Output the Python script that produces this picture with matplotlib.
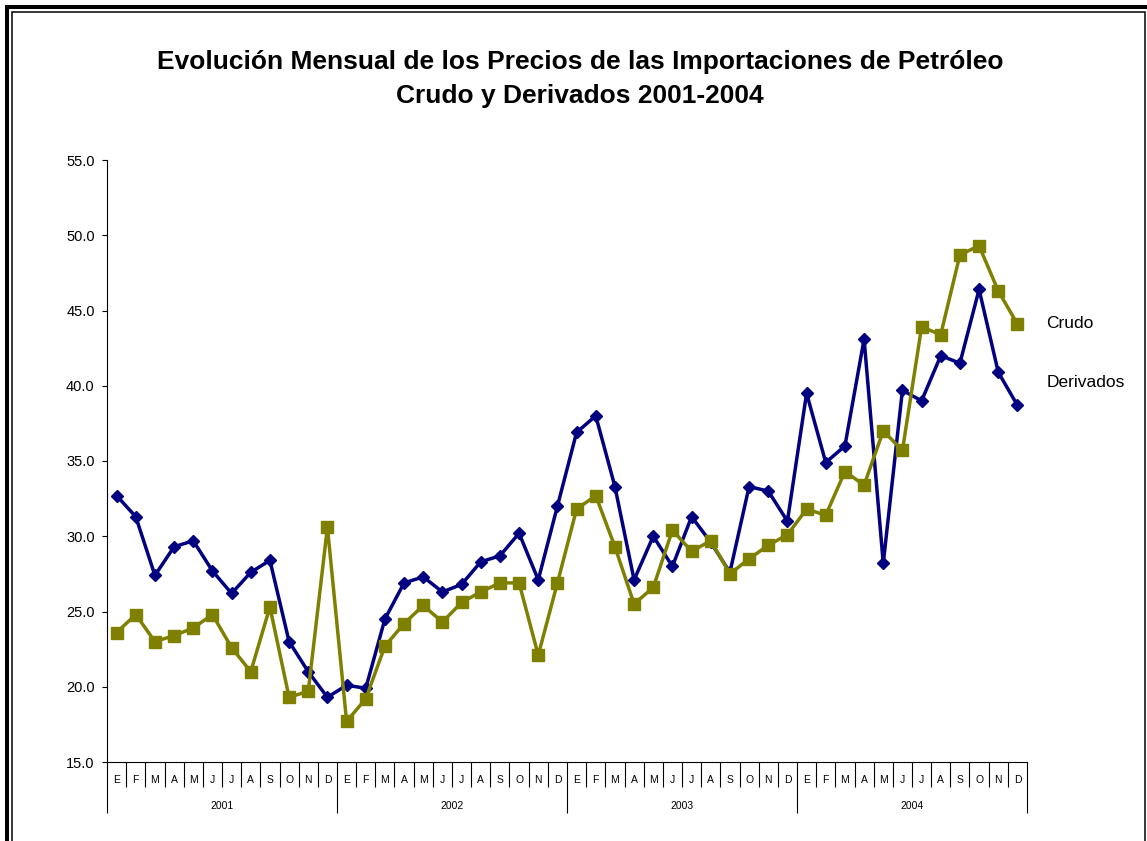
import matplotlib
matplotlib.use("Agg")
import matplotlib.pyplot as plt
from matplotlib.patches import Rectangle
import numpy as np

plt.rcParams['font.family'] = ['Liberation Sans', 'DejaVu Sans']

# Precios mensuales (US$/barril), enero 2001 - diciembre 2004
years = ['2001', '2002', '2003', '2004']
months = ['E', 'F', 'M', 'A', 'M', 'J', 'J', 'A', 'S', 'O', 'N', 'D']

derivados = [32.7, 31.3, 27.4, 29.3, 29.7, 27.7, 26.2, 27.6, 28.4, 23.0, 21.0, 19.3,
             20.1, 19.9, 24.5, 26.9, 27.3, 26.3, 26.8, 28.3, 28.7, 30.2, 27.1, 32.0,
             36.9, 38.0, 33.3, 27.1, 30.0, 28.0, 31.3, 29.6, 27.6, 33.3, 33.0, 31.0,
             39.5, 34.9, 36.0, 43.1, 28.2, 39.7, 39.0, 42.0, 41.5, 46.4, 40.9, 38.7]
crudo = [23.6, 24.8, 23.0, 23.4, 23.9, 24.8, 22.6, 21.0, 25.3, 19.3, 19.7, 30.6,
         17.7, 19.2, 22.7, 24.2, 25.4, 24.3, 25.6, 26.3, 26.9, 26.9, 22.1, 26.9,
         31.8, 32.7, 29.3, 25.5, 26.6, 30.4, 29.0, 29.7, 27.5, 28.5, 29.4, 30.1,
         31.8, 31.4, 34.3, 33.4, 37.0, 35.7, 43.9, 43.4, 48.7, 49.3, 46.3, 44.1]

W, H = 1147, 841
fig = plt.figure(figsize=(W / 100, H / 100), dpi=100)
ax = fig.add_axes([107 / W, 1 - 762 / H, 920 / W, 602 / H])

x = np.arange(len(derivados))
ax.plot(x, derivados, color='#000080', lw=2.5, marker='D', ms=6.5, label='Derivados')
ax.plot(x, crudo, color='#808000', lw=2.5, marker='s', ms=8, label='Crudo')

ax.set_xlim(-0.5, len(x) - 0.5)
ax.set_ylim(15, 55)
ax.set_yticks(np.arange(15, 56, 5))
ax.set_yticklabels([f'{v:.1f}' for v in np.arange(15, 56, 5)], fontsize=10.5)
ax.tick_params(axis='y', direction='out', length=3.4, width=0.8, pad=5.5)

# separadores de meses y de años en el eje x
ax.set_xticks(np.arange(-0.5, len(x), 12))
ax.set_xticks(np.arange(-0.5, len(x), 1), minor=True)
ax.tick_params(axis='x', which='major', length=37, width=0.8, labelbottom=False)
ax.tick_params(axis='x', which='minor', length=18, width=0.8, labelbottom=False)

tr = ax.get_xaxis_transform()
for i in x:
    ax.text(i, -0.03, months[i % 12], transform=tr, ha='center', va='center', fontsize=7.5)
for k, yr in enumerate(years):
    ax.text(k * 12 + 5.5, -0.073, yr, transform=tr, ha='center', va='center', fontsize=7.5)

for s in ['top', 'right']:
    ax.spines[s].set_visible(False)
for s in ['left', 'bottom']:
    ax.spines[s].set_linewidth(0.8)

ax.text(1.021, 0.729, 'Crudo', transform=ax.transAxes, ha='left', va='center', fontsize=12.5)
ax.text(1.021, 0.63, 'Derivados', transform=ax.transAxes, ha='left', va='center', fontsize=12.5)

fig.text(580 / W, 1 - 79 / H,
         'Evolución Mensual de los Precios de las Importaciones de Petróleo\nCrudo y Derivados 2001-2004',
         ha='center', va='center', fontsize=19, fontweight='bold', linespacing=1.55)

# marco doble
fig.add_artist(Rectangle((7 / W, -0.05), 1.1, 1 - 7 / H + 0.05, transform=fig.transFigure,
                         fill=False, lw=2.9, edgecolor='black'))
fig.add_artist(Rectangle((12 / W, -0.05), (1145 - 12) / W, 1 - 12 / H + 0.05, transform=fig.transFigure,
                         fill=False, lw=1.1, edgecolor='black'))

fig.savefig('out.png', dpi=100)
